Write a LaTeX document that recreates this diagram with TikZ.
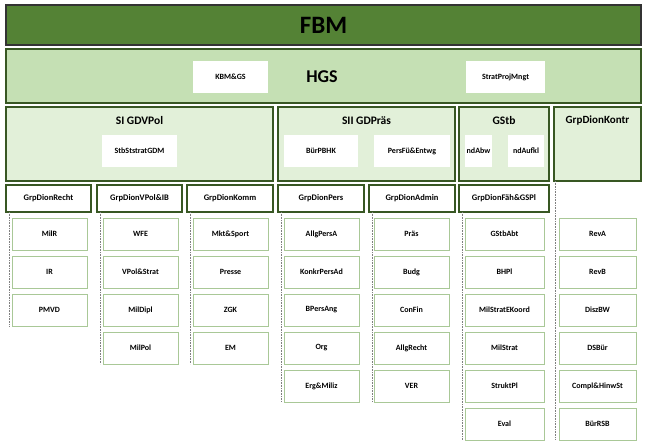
\documentclass[tikz,border=0pt]{standalone}
\usepackage{fontspec}
\setmainfont{Carlito}
\begin{document}
\begin{tikzpicture}[x=1pt,y=-1pt,font=\bfseries,
  box/.style={draw=#1,line width=1.2pt,anchor=north west,inner sep=0pt,outer sep=0pt},
  white/.style={fill=white,anchor=north west,inner sep=0pt,outer sep=0pt,minimum height=32pt,font=\bfseries\fontsize{8}{9}\selectfont},
  leaf/.style={draw=lf,fill=white,line width=0.9pt,anchor=north west,inner sep=0pt,outer sep=0pt,minimum height=32pt,font=\bfseries\fontsize{8}{9}\selectfont},
  grp/.style={draw=bd,line width=1.2pt,fill=white,anchor=north west,inner sep=0pt,outer sep=0pt,minimum height=27pt,minimum width=86pt,font=\bfseries\fontsize{8.5}{10}\selectfont},
  vline/.style={gray,densely dotted,line width=0.6pt}]
\useasboundingbox (0,0) rectangle (647,447);
\definecolor{dk}{HTML}{548235}
\definecolor{lg}{HTML}{C5E0B4}
\definecolor{ll}{HTML}{E2F0D9}
\definecolor{bd}{HTML}{385723}
\definecolor{lf}{HTML}{A9C897}
% FBM
\node[box=black!80,fill=dk,minimum width=635pt,minimum height=40pt,font=\bfseries\fontsize{25}{27}\selectfont] (fbm) at (6,5) {FBM};
% HGS
\node[box=bd,fill=lg,minimum width=635pt,minimum height=54pt] (hgsbox) at (6,49) {};
\node[font=\bfseries\fontsize{18}{20}\selectfont] (hgs) at (322,77) {HGS};
\node[white,minimum width=75pt] (kbm) at (193,61) {KBM\&GS};
\node[white,minimum width=79pt] (strat) at (466,61) {StratProjMngt};
% row3
\node[box=bd,fill=ll,minimum width=267pt,minimum height=74pt] (si) at (6,107) {};
\node[font=\bfseries\fontsize{11.5}{13}\selectfont] (sit) at (139.5,121) {SI GDVPol};
\node[white,minimum width=75pt] (stb) at (102,135) {StbStstratGDM};
\node[box=bd,fill=ll,minimum width=177pt,minimum height=74pt] (sii) at (278,107) {};
\node[font=\bfseries\fontsize{11.5}{13}\selectfont] (siit) at (366.5,121) {SII GDPräs};
\node[white,minimum width=74pt] (bur) at (284,135) {BürPBHK};
\node[white,minimum width=76pt] (pers) at (374,135) {PersFü\&Entwg};
\node[box=bd,fill=ll,minimum width=90pt,minimum height=74pt] (gstb) at (459,107) {};
\node[font=\bfseries\fontsize{11.5}{13}\selectfont] (gstbt) at (504,121) {GStb};
\node[white,minimum width=27pt] (nda) at (465,135) {ndAbw};
\node[white,minimum width=36pt] (ndf) at (508,135) {ndAufkl};
\node[box=bd,fill=ll,minimum width=87pt,minimum height=74pt] (kontr) at (554,107) {};
\node[font=\bfseries\fontsize{11}{13}\selectfont] (kontrt) at (597.5,121) {GrpDionKontr};
% groups
\node[grp,minimum width=85pt] (g1) at (6,185) {GrpDionRecht};
\node[grp,minimum width=85pt] (g2) at (97,185) {GrpDionVPol\&IB};
\node[grp] (g3) at (187,185) {GrpDionKomm};
\node[grp] (g4) at (278,185) {GrpDionPers};
\node[grp] (g5) at (369,185) {GrpDionAdmin};
\node[grp,minimum width=90pt] (g6) at (459,185) {GrpDionFäh\&GSPl};
\coordinate (g7) at (555,181);
% leaves
\foreach \c/\x/\w/\list in {
 1/12/75/{MilR,IR,PMVD},
 2/103/75/{WFE,VPol\&Strat,MilDipl,MilPol},
 3/193/75/{Mkt\&Sport,Presse,ZGK,EM},
 4/284/75/{AllgPersA,KonkrPersAd,BPersAng,Org,Erg\&Miliz},
 5/374/75/{Präs,Budg,ConFin,AllgRecht,VER},
 6/465/79/{GStbAbt,BHPl,MilStratEKoord,MilStrat,StruktPl,Eval},
 7/559/77/{RevA,RevB,DiszBW,DSBür,Compl\&HinwSt,BürRSB}}{
  \foreach \t [count=\k] in \list {
    \node[leaf,minimum width=\w pt] (l\c-\k) at (\x,{218+38*(\k-1)}) {\t};
    \xdef\last{\k}
  }
  \coordinate (e\c) at (\x-3,{218+38*(\last-1)+32});
}
\foreach \c in {1,...,6}{
  \draw[vline] ([xshift=3pt]g\c.south west) -- ([xshift=3pt]g\c.south west |- e\c);
}
\draw[vline] (g7) -- (g7 |- e7);
\end{tikzpicture}
\end{document}
